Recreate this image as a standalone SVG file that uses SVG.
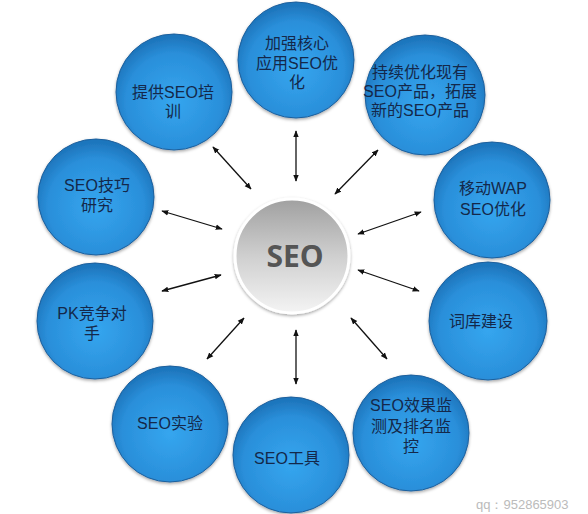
<svg xmlns="http://www.w3.org/2000/svg" width="588" height="514" viewBox="0 0 588 514">
<style>
.n{fill:url(#blue);stroke:#1d5f9c;stroke-width:1}
.t{font-family:"Liberation Sans","Noto Sans CJK SC",sans-serif;font-size:16px;fill:#14284a;text-anchor:middle}
.c{stroke:#111;stroke-width:1.3;fill:none;marker-start:url(#ah);marker-end:url(#ah)}
</style>
<defs>
<radialGradient id="blue" cx="0.5" cy="0.58" r="0.55">
<stop offset="0" stop-color="#35a6ef"/>
<stop offset="0.75" stop-color="#2a8fda"/>
<stop offset="1" stop-color="#1e76bd"/>
</radialGradient>
<linearGradient id="gray" x1="0" y1="0" x2="0" y2="1">
<stop offset="0" stop-color="#a0a0a0"/>
<stop offset="0.5" stop-color="#cfcfcf"/>
<stop offset="1" stop-color="#f4f4f4"/>
</linearGradient>
<filter id="sh" x="-20%" y="-20%" width="140%" height="140%">
<feDropShadow dx="0" dy="1.5" stdDeviation="1.5" flood-color="#000" flood-opacity="0.35"/>
</filter>
<marker id="ah" viewBox="0 0 10 10" refX="9" refY="5" markerWidth="7" markerHeight="7" orient="auto-start-reverse" markerUnits="userSpaceOnUse">
<path d="M0,1 L10,5 L0,9 Z" fill="#111"/>
</marker>
</defs>
<rect width="588" height="514" fill="#fff"/>
<g id="connectors">
<line class="c" x1="296" y1="131" x2="296" y2="181"/>
<line class="c" x1="213" y1="147" x2="251" y2="189"/>
<line class="c" x1="378" y1="150" x2="335" y2="194"/>
<line class="c" x1="162" y1="211" x2="222" y2="229"/>
<line class="c" x1="421" y1="212" x2="358" y2="234"/>
<line class="c" x1="162" y1="291" x2="221" y2="275"/>
<line class="c" x1="358" y1="270" x2="419" y2="291"/>
<line class="c" x1="207" y1="359" x2="244" y2="318"/>
<line class="c" x1="296" y1="330" x2="296" y2="384"/>
<line class="c" x1="351" y1="318" x2="387" y2="359"/>
</g>
<g id="center">
<circle cx="292" cy="256" r="57" fill="url(#gray)" stroke="#fff" stroke-width="3" filter="url(#sh)"/>
<text x="295" y="267" font-family="'Open Sans','Liberation Sans',sans-serif" font-weight="bold" font-size="30" fill="#555" text-anchor="middle">SEO</text>
</g>
<g id="n1"><circle class="n" cx="296" cy="60" r="58" filter="url(#sh)"/>
<text class="t" x="297" y="49">加强核心</text><text class="t" x="297" y="69">应用SEO优</text><text class="t" x="297" y="88">化</text></g>
<g id="n2"><circle class="n" cx="425" cy="95" r="60" filter="url(#sh)"/>
<text class="t" x="420" y="78">持续优化现有</text><text class="t" x="420" y="97">SEO产品，拓展</text><text class="t" x="420" y="116">新的SEO产品</text></g>
<g id="n3"><circle class="n" cx="492" cy="200" r="58" filter="url(#sh)"/>
<text class="t" x="493" y="194">移动WAP</text><text class="t" x="493" y="215">SEO优化</text></g>
<g id="n4"><circle class="n" cx="488" cy="321" r="59" filter="url(#sh)"/>
<text class="t" x="481" y="327">词库建设</text></g>
<g id="n5"><circle class="n" cx="411" cy="433" r="58" filter="url(#sh)"/>
<text class="t" x="411" y="411">SEO效果监</text><text class="t" x="411" y="432">测及排名监</text><text class="t" x="411" y="452">控</text></g>
<g id="n6"><circle class="n" cx="291" cy="455" r="58" filter="url(#sh)"/>
<text class="t" x="287" y="464">SEO工具</text></g>
<g id="n7"><circle class="n" cx="170" cy="424" r="58" filter="url(#sh)"/>
<text class="t" x="170" y="429">SEO实验</text></g>
<g id="n8"><circle class="n" cx="95" cy="321" r="58" filter="url(#sh)"/>
<text class="t" x="92" y="319">PK竞争对</text><text class="t" x="92" y="339">手</text></g>
<g id="n9"><circle class="n" cx="96" cy="197" r="58" filter="url(#sh)"/>
<text class="t" x="97" y="191">SEO技巧</text><text class="t" x="97" y="211">研究</text></g>
<g id="n10"><circle class="n" cx="174" cy="92" r="58" filter="url(#sh)"/>
<text class="t" x="173" y="98">提供SEO培</text><text class="t" x="173" y="117">训</text></g>
<text x="476" y="509" font-family="'Liberation Sans',sans-serif" font-size="13" fill="#bbb">qq：952865903</text>
</svg>
